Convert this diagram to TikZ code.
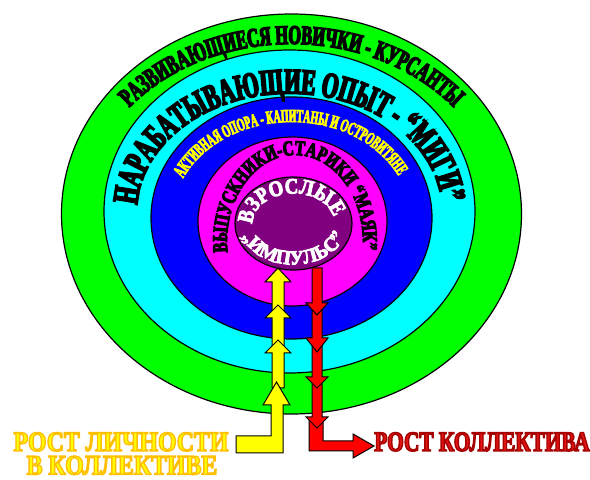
\documentclass[tikz,border=0pt]{standalone}
\usepackage{fontspec}
\setmainfont{Liberation Serif}
\usetikzlibrary{decorations.text}
\newfontfamily\fA[FakeStretch=0.60, FakeBold=5]{Liberation Serif Bold}
\newfontfamily\fB[FakeStretch=0.59, FakeBold=5]{Liberation Serif Bold}
\newfontfamily\fC[FakeStretch=0.53, FakeBold=4]{Liberation Serif Bold}
\newfontfamily\fD[FakeStretch=0.72, FakeBold=5]{Liberation Serif Bold}
\newfontfamily\fE[FakeStretch=0.85, FakeBold=4]{Liberation Serif Bold}
\newfontfamily\fF[FakeStretch=0.98, FakeBold=4]{Liberation Serif Bold}
\newfontfamily\fG[FakeStretch=0.85, FakeBold=5]{Liberation Serif Bold}
\newfontfamily\fH[FakeStretch=0.76, FakeBold=5]{Liberation Serif Bold}
\definecolor{cgreen}{RGB}{0,255,0}
\definecolor{ccyan}{RGB}{0,255,255}
\definecolor{cblue}{RGB}{0,0,255}
\definecolor{cmag}{RGB}{255,0,255}
\definecolor{cpur}{RGB}{128,0,128}
\definecolor{cyel}{RGB}{255,255,0}
\definecolor{cred}{RGB}{255,0,0}
\definecolor{credtext}{RGB}{225,20,20}
\newcommand\strokecol[1]{\special{pdf:literal direct #1 RG}}
\begin{document}
\begin{tikzpicture}[x=1pt,y=1pt,
  ring/.style={draw=black, line width=1.2pt},
  blockarrow/.style={draw=black, line width=1pt, line join=miter},
  label/.style={anchor=base, inner sep=0pt, text depth=0pt}]
\fill[white] (0,0) rectangle (590,480);
\useasboundingbox (0,0) rectangle (590,480);
% rings
\coordinate (cg) at (291.5,266);
\coordinate (cc) at (289.5,268.5);
\coordinate (cb) at (291.5,262);
\coordinate (cm) at (292.5,258.5);
\coordinate (cmt) at (295,238);
\coordinate (cp) at (293.5,256.5);
\draw[ring, fill=cgreen] (cg) ellipse [x radius=230pt, y radius=200pt];
\draw[ring, fill=ccyan] (cc) ellipse [x radius=185.5pt, y radius=161.5pt];
\draw[ring, fill=cblue] (cb) ellipse [x radius=140.5pt, y radius=121pt];
\draw[ring, fill=cmag] (cm) ellipse [x radius=94.5pt, y radius=84.5pt];
\draw[ring, fill=cpur] (cp) ellipse [x radius=58.5pt, y radius=46.5pt];
% ring texts
\path[decorate, decoration={text along path, text align=center, text color=black,
  text={|\fA\fontsize{27}{27}\selectfont|РАЗВИВАЮЩИЕСЯ НОВИЧКИ - КУРСАНТЫ}}]
  (cg) ++(200:208pt and 170pt) arc[start angle=200, end angle=-20, x radius=208pt, y radius=170pt];
\path[decorate, decoration={text along path, text align=center, text color=black,
  text={|\fB\fontsize{36}{36}\selectfont|НАРАБАТЫВАЮЩИЕ ОПЫТ - “МИГИ”}}]
  (cc) ++(270.5:152.5pt and 118pt) arc[start angle=270.5, end angle=-89.5, x radius=152.5pt, y radius=118pt];
\path[decorate, decoration={text along path, text align=center, text color=cyel,
  text={|\fC\fontsize{18.5}{18.5}\selectfont|АКТИВНАЯ ОПОРА - КАПИТАНЫ И ОСТРОВИТЯНЕ}}]
  (cb) ++(270.7:119pt and 96pt) arc[start angle=270.7, end angle=-89.3, x radius=119pt, y radius=96pt];
\path[decorate, decoration={text along path, text align=center, text color=black,
  text={|\fD\fontsize{21}{21}\selectfont|ВЫПУСКНИКИ-СТАРИКИ “МАЯК”}}]
  (cmt) ++(271:68pt and 87pt) arc[start angle=271, end angle=-89, x radius=68pt, y radius=87pt];
\path[decorate, decoration={text along path, text align=center, text color=white,
  text={|\fE\fontsize{22}{22}\selectfont|ВЗРОСЛЫЕ}}]
  (cp) ++(265:41pt and 30pt) arc[start angle=265, end angle=-75, x radius=41pt, y radius=30pt];
\path[decorate, decoration={text along path, text align=center, text color=white,
  text={|\fF\fontsize{20}{20}\selectfont|„ИМПУЛЬС”}}]
  (cp) ++(90:54pt and 41pt) arc[start angle=90, end angle=450, x radius=54pt, y radius=41pt];
% red arrows (down)
\draw[blockarrow, fill=cred] (309,60) -- (323,60) -- (323,39) -- (353,39) -- (353,46) -- (374,34) -- (353,22) -- (353,29) -- (309,29) -- cycle;
\draw[blockarrow, fill=cred] (312,99) -- (322,99) -- (322,63) -- (328,63) -- (317,52) -- (306,63) -- (312,63) -- cycle;
\draw[blockarrow, fill=cred] (312,135) -- (322,135) -- (322,103) -- (328,103) -- (317,92) -- (306,103) -- (312,103) -- cycle;
\draw[blockarrow, fill=cred] (312,172) -- (322,172) -- (322,142) -- (328,142) -- (317,128) -- (306,142) -- (312,142) -- cycle;
\draw[blockarrow, fill=cred] (312,212) -- (322,212) -- (322,177) -- (328,177) -- (317,165) -- (306,177) -- (312,177) -- cycle;
% yellow arrows (up)
\draw[blockarrow, fill=cyel] (272,169) -- (284,169) -- (284,198) -- (291,198) -- (278,212) -- (265,198) -- (272,198) -- cycle;
\draw[blockarrow, fill=cyel] (272,134) -- (284,134) -- (284,162) -- (291,162) -- (278,175) -- (265,162) -- (272,162) -- cycle;
\draw[blockarrow, fill=cyel] (272,92) -- (284,92) -- (284,127) -- (291,127) -- (278,140) -- (265,127) -- (272,127) -- cycle;
\draw[blockarrow, fill=cyel] (236,27) -- (283,27) -- (283,75) -- (290,75) -- (276.5,98) -- (263,75) -- (271,75) -- (271,44) -- (236,44) -- cycle;
% labels
\node[label, text=cyel, font=\fG\fontsize{28}{28}\selectfont] (lichnost) at (121,29) {\strokecol{1 0.75 0}РОСТ ЛИЧНОСТИ};
\node[label, text=cyel, font=\fG\fontsize{28}{28}\selectfont] (vkollektive) at (122,5.5) {\strokecol{1 0.75 0}В КОЛЛЕКТИВЕ};
\node[label, text=credtext, font=\fH\fontsize{28}{28}\selectfont] (kollektiv) at (482,29) {\strokecol{0.65 0 0}РОСТ КОЛЛЕКТИВА};
\end{tikzpicture}
\end{document}
